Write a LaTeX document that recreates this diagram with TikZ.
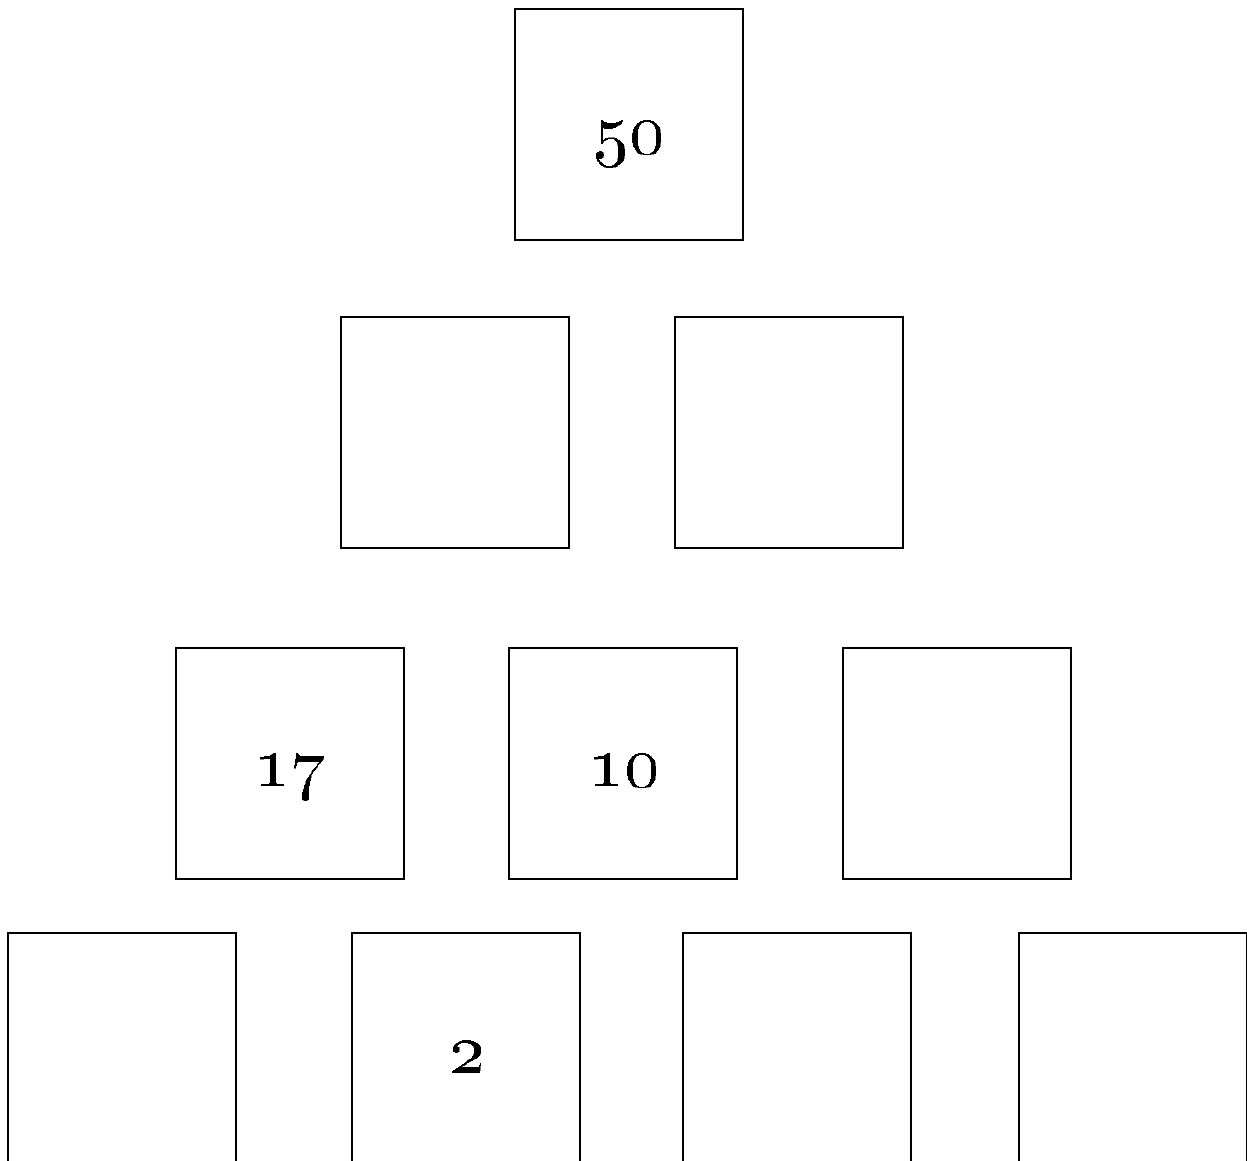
\documentclass[tikz,border=0pt]{standalone}
\begin{document}
\begin{tikzpicture}[x=1pt,y=-1pt,
  cell/.style={draw=black, line width=2.8pt, rectangle, inner sep=0pt, outer sep=0pt,
    minimum width=228pt, minimum height=231pt, anchor=north west},
  num/.style={anchor=base, inner sep=0pt}]
\useasboundingbox (0,0) rectangle (1247,1161);
\clip (0,0) rectangle (1247,1161);
\newcommand\bignum[1]{\scalebox{7.1}{\oldstylenums{#1}}}
% row 1
\node[cell] (a1) at (515,9) {};
% row 2
\node[cell] (b1) at (341,317) {};
\node[cell] (b2) at (675,317) {};
% row 3
\node[cell] (c1) at (176,648) {};
\node[cell] (c2) at (509,648) {};
\node[cell] (c3) at (843,648) {};
% row 4
\node[cell] (d1) at (8,933) {};
\node[cell] (d2) at (352,933) {};
\node[cell] (d3) at (683,933) {};
\node[cell] (d4) at (1019,933) {};
% numbers
\node[num] (t50) at (629,153) {\bignum{50}};
\node[num] (t17) at (290,785) {\bignum{17}};
\node[num] (t10) at (624,785) {\bignum{10}};
\node[num] (t2) at (467,1072) {\bignum{2}};
\end{tikzpicture}
\end{document}
